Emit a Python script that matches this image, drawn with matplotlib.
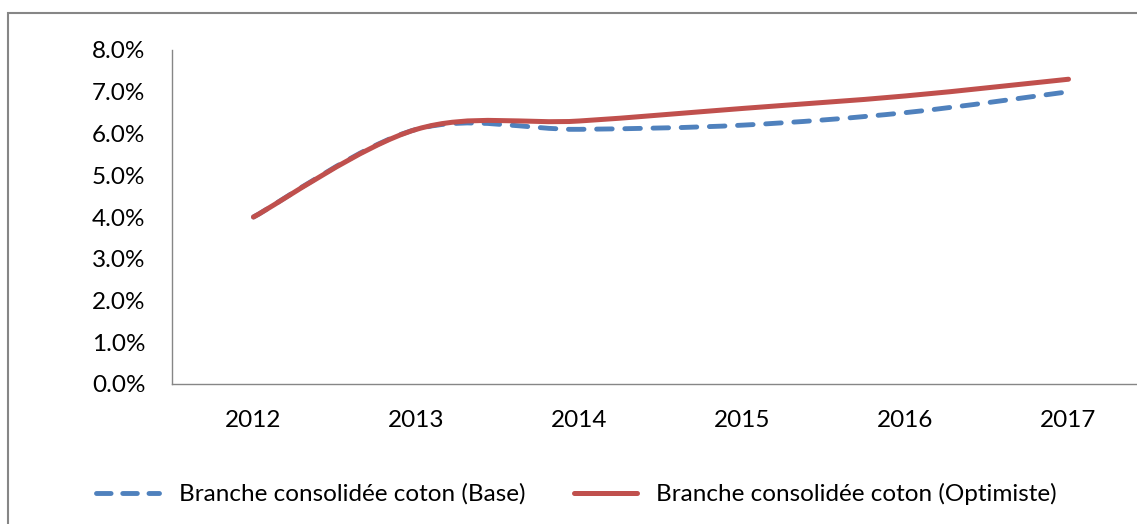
import numpy as np
import matplotlib.pyplot as plt
from matplotlib.path import Path
from matplotlib.patches import PathPatch, Rectangle
from matplotlib.lines import Line2D
from matplotlib.ticker import FuncFormatter

plt.rcParams['font.family'] = ['Lato', 'DejaVu Sans']

# Data
years = ['2012', '2013', '2014', '2015', '2016', '2017']
base = [0.040, 0.061, 0.061, 0.062, 0.065, 0.070]
optimiste = [0.040, 0.061, 0.063, 0.066, 0.069, 0.073]
label_base = 'Branche consolidée coton (Base)'
label_opt = 'Branche consolidée coton (Optimiste)'

blue = '#4F81BD'
red = '#C0504D'


# Excel-like smoothed line: cubic bezier through the data points
def smooth_path(xs, ys):
    pts = np.column_stack([xs, ys])
    verts = [pts[0]]
    codes = [Path.MOVETO]
    n = len(pts)
    for i in range(n - 1):
        p0 = pts[max(i - 1, 0)]
        p1 = pts[i]
        p2 = pts[i + 1]
        p3 = pts[min(i + 2, n - 1)]
        c1 = p1 + (p2 - p0) / 6.0
        c2 = p2 - (p3 - p1) / 6.0
        verts += [c1, c2, p2]
        codes += [Path.CURVE4] * 3
    return Path(verts, codes)


fig = plt.figure(figsize=(11.37, 5.24), dpi=100)
ax = fig.add_axes([172 / 1137, 140 / 524, (1137 - 172) / 1137, 334 / 524])

x = np.arange(len(years))
ax.add_patch(PathPatch(smooth_path(x, base), fill=False, edgecolor=blue, lw=3.5,
                       linestyle=(0, (3.2, 2.6)), capstyle='round', zorder=3))
ax.add_patch(PathPatch(smooth_path(x, optimiste), fill=False, edgecolor=red, lw=3.6,
                       capstyle='round', zorder=4))

ax.set_xlim(-0.5, -0.5 + (1137 - 172) / 163)
ax.set_ylim(0, 0.08)
ax.set_xticks(x)
ax.set_xticklabels(years)
ax.set_yticks(np.arange(0, 0.081, 0.01))
ax.yaxis.set_major_formatter(FuncFormatter(lambda v, p: f'{v * 100:.1f}%'))
ax.tick_params(axis='both', length=0, labelsize=17.5, colors='black')
ax.tick_params(axis='y', pad=19)
ax.tick_params(axis='x', pad=19)
for s in ['top', 'right']:
    ax.spines[s].set_visible(False)
for s in ['left', 'bottom']:
    ax.spines[s].set_color('#868686')
    ax.spines[s].set_linewidth(1.0)

# outer chart frame (cropped at right and bottom)
fig.patches.append(Rectangle((7.5 / 1137, -0.1), 1.2, (524 - 13.5) / 524 + 0.1,
                             transform=fig.transFigure, fill=False,
                             edgecolor='#868686', lw=1.5))

handles = [Line2D([], [], color=blue, lw=3.5, linestyle=(0, (3.0, 2.4)),
                  dash_capstyle='round'),
           Line2D([], [], color=red, lw=3.6, solid_capstyle='round')]
fig.legend(handles, [label_base, label_opt], loc='center', ncol=2,
           bbox_to_anchor=(0.507, (524 - 494) / 524), frameon=False, fontsize=17.5,
           handlelength=2.6, handletextpad=0.8, columnspacing=2.0)

fig.savefig('out.png', dpi=100)
